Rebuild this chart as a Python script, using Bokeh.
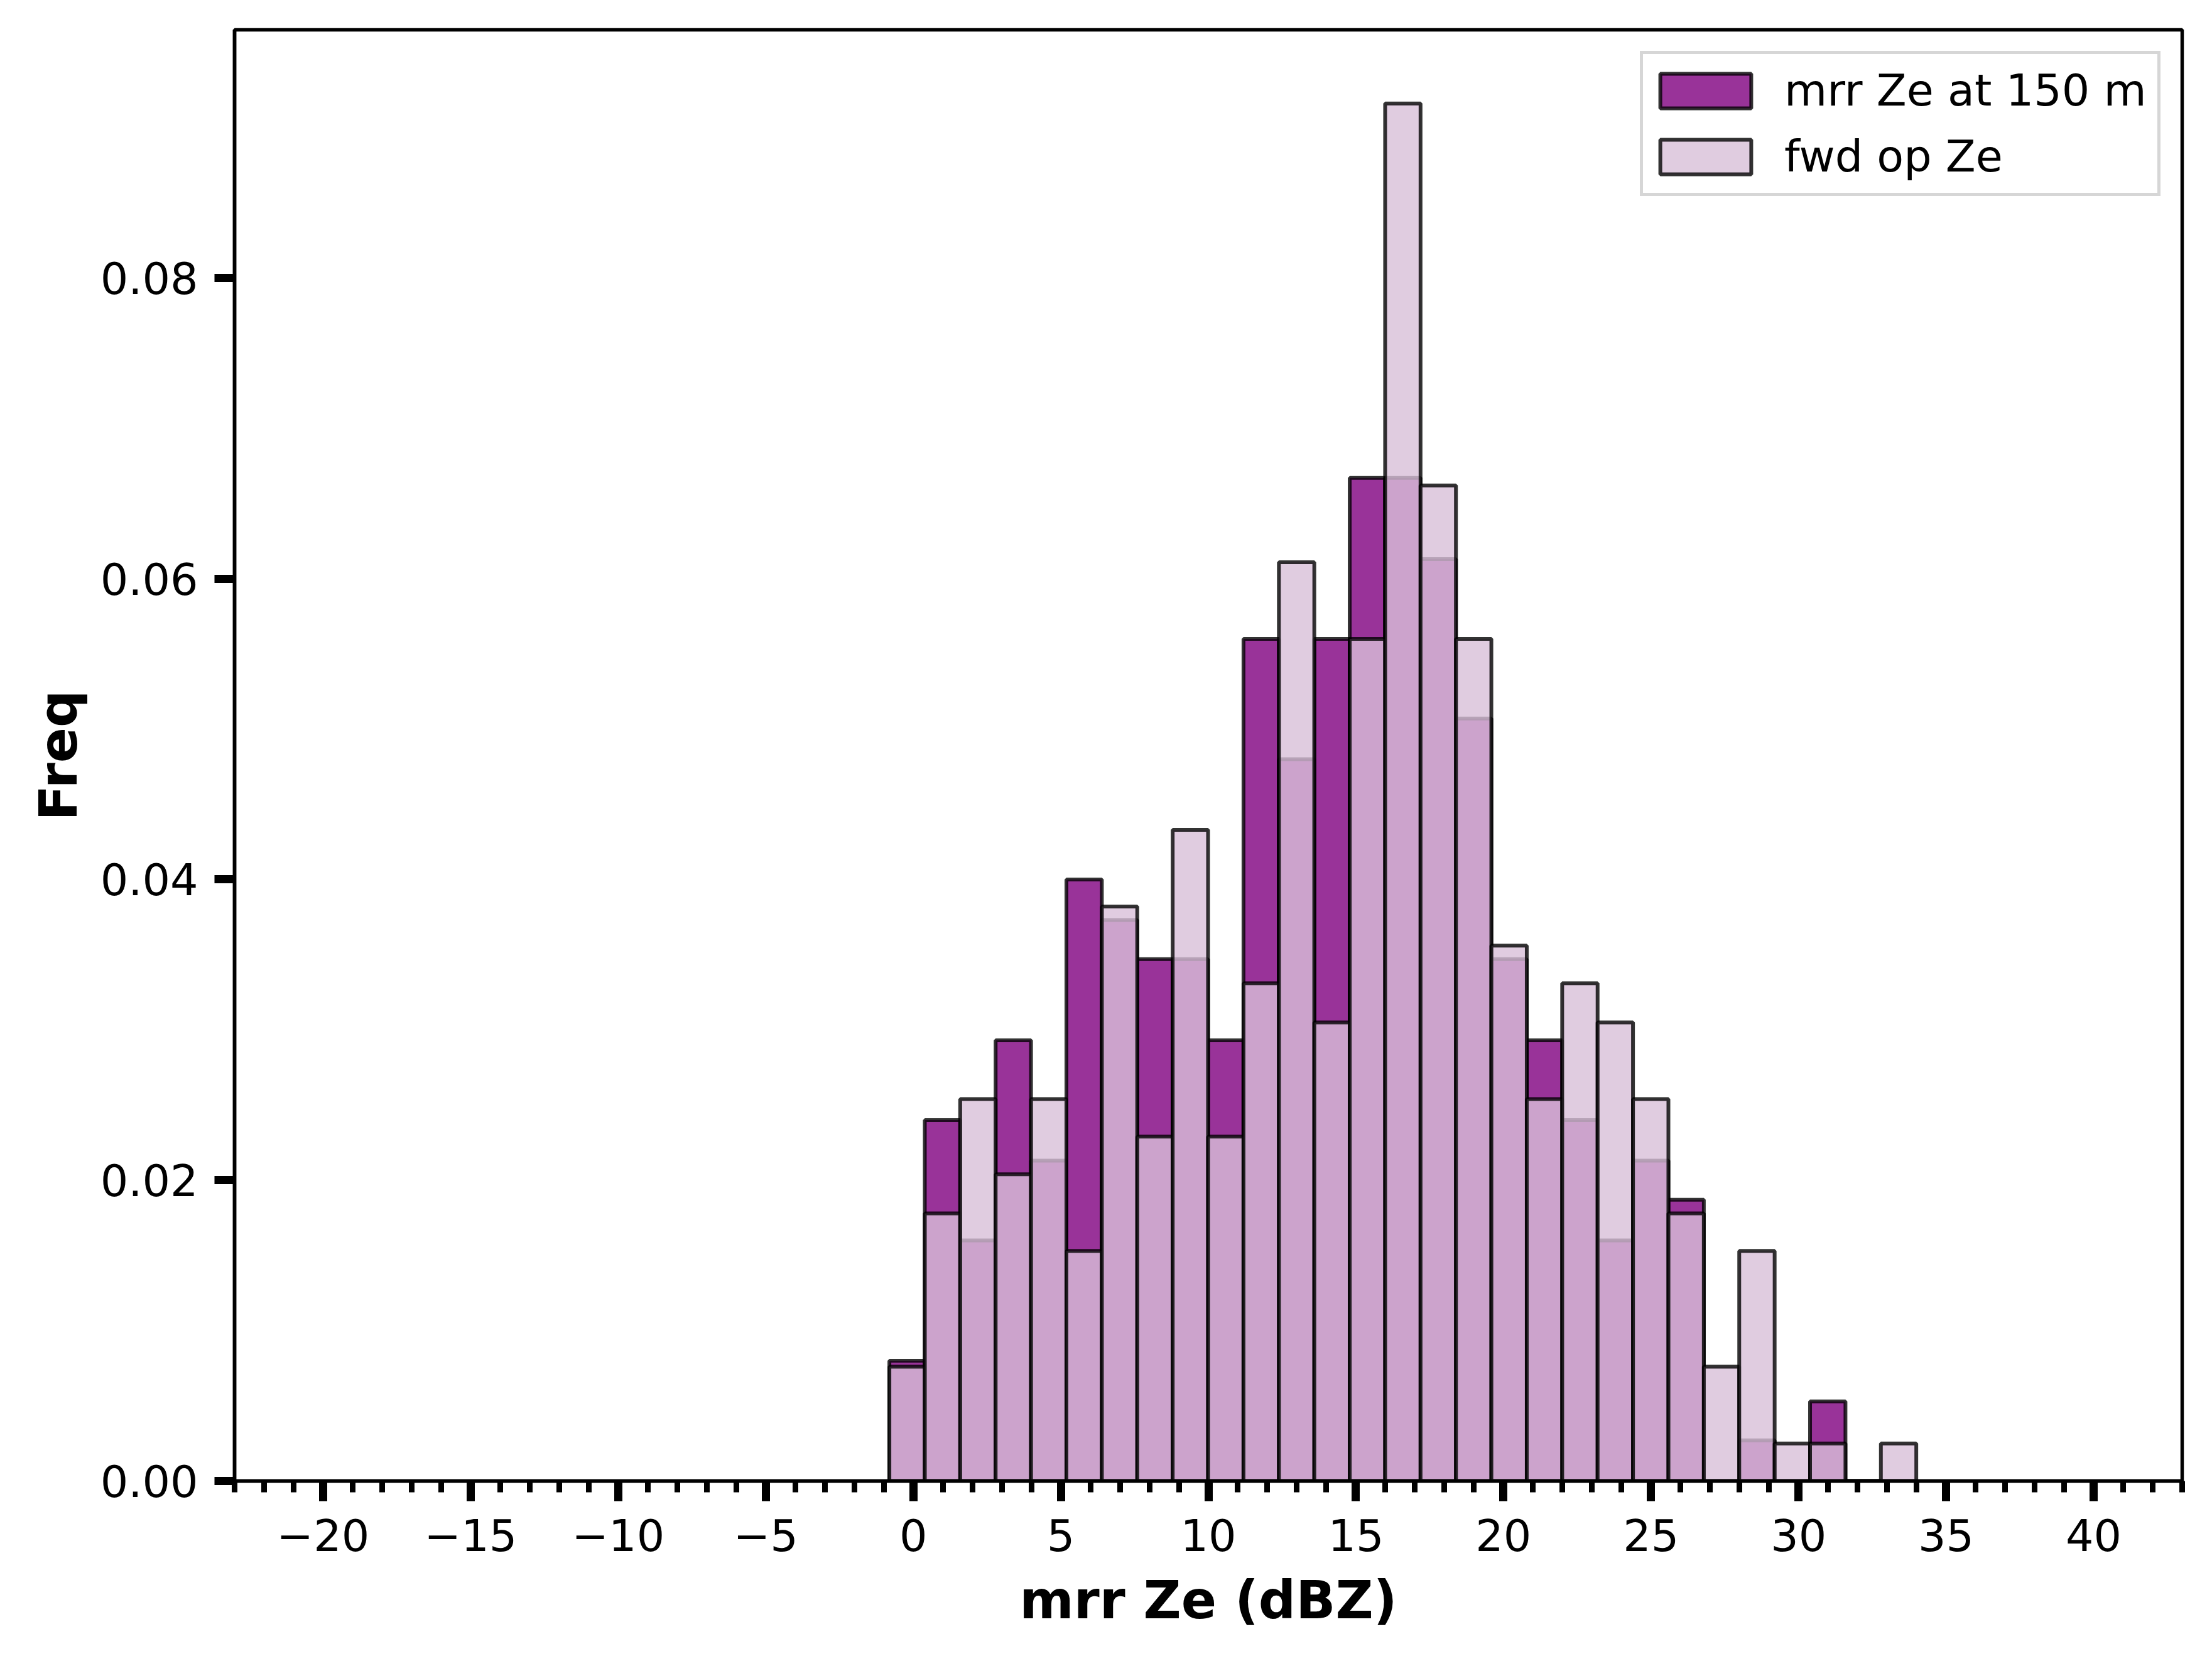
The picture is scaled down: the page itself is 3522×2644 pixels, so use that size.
import numpy as np
from bokeh.plotting import figure
from bokeh.models import (Range1d, SingleIntervalTicker, FixedTicker, PrintfTickFormatter,
                          Legend, LegendItem, ColumnDataSource)
from bokeh.embed import file_html
from bokeh.resources import INLINE

# ---- data (density per bin) ----
bin_start = -0.81
bin_width = 1.2
mrr_freq = [0.0080, 0.0240, 0.0160, 0.0293, 0.0213, 0.0400, 0.0373, 0.0347, 0.0347, 0.0293,
            0.0560, 0.0480, 0.0560, 0.0667, 0.0667, 0.0613, 0.0507, 0.0347, 0.0293, 0.0240,
            0.0160, 0.0213, 0.0187, 0.0000, 0.0027, 0.0000, 0.0053, 0.0000, 0.0000]
fwd_freq = [0.0076, 0.0178, 0.0254, 0.0204, 0.0254, 0.0153, 0.0382, 0.0229, 0.0433, 0.0229,
            0.0331, 0.0611, 0.0305, 0.0560, 0.0916, 0.0662, 0.0560, 0.0356, 0.0254, 0.0331,
            0.0305, 0.0254, 0.0178, 0.0076, 0.0153, 0.0025, 0.0025, 0.0000, 0.0025]
series_labels = ["mrr Ze at 150 m", "fwd op Ze"]
x_label = "mrr Ze (dBZ)"
y_label = "Freq"
x_ticks = list(range(-20, 41, 5))
y_ticks = [0.0, 0.02, 0.04, 0.06, 0.08]

n = len(mrr_freq)
edges = bin_start + bin_width * np.arange(n + 1)

FONT = "DejaVu Sans"

p = figure(width=3506, height=2628, output_backend="svg", toolbar_location=None,
           x_range=Range1d(-23, 43), y_range=Range1d(0, 0.0965),
           min_border_left=373, min_border_right=32, min_border_top=47, min_border_bottom=271)
p.background_fill_color = "white"
p.border_fill_color = "white"
p.xgrid.visible = False
p.ygrid.visible = False
p.outline_line_color = "black"
p.outline_line_width = 5.5

src1 = ColumnDataSource(dict(left=edges[:-1], right=edges[1:], top=mrr_freq, bottom=[0] * n))
src2 = ColumnDataSource(dict(left=edges[:-1], right=edges[1:], top=fwd_freq, bottom=[0] * n))

r1 = p.quad(left="left", right="right", top="top", bottom="bottom", source=src1,
            fill_color="purple", fill_alpha=0.8, line_color="black", line_alpha=0.8, line_width=6)
r2 = p.quad(left="left", right="right", top="top", bottom="bottom", source=src2,
            fill_color="thistle", fill_alpha=0.8, line_color="black", line_alpha=0.8, line_width=6)

# x axis
xa = p.xaxis[0]
xa.ticker = SingleIntervalTicker(interval=5, num_minor_ticks=5)
xa.major_label_overrides = {t: ("\u2212" + str(-t) if t < 0 else str(t)) for t in x_ticks}
xa.axis_label = x_label
# y axis
ya = p.yaxis[0]
ya.ticker = FixedTicker(ticks=y_ticks)
ya.formatter = PrintfTickFormatter(format="%.2f")
ya.axis_label = y_label

for ax in (xa, ya):
    ax.axis_line_color = "black"
    ax.axis_line_width = 5.5
    ax.major_tick_line_color = "black"
    ax.major_tick_line_width = 13
    ax.major_tick_out = 32
    ax.major_tick_in = 0
    ax.minor_tick_line_color = "black"
    ax.minor_tick_line_width = 9
    ax.minor_tick_out = 18
    ax.minor_tick_in = 0
    ax.major_label_text_font = FONT
    ax.major_label_text_font_size = "70px"
    ax.major_label_text_color = "black"
    ax.axis_label_text_font = FONT
    ax.axis_label_text_font_size = "83px"
    ax.axis_label_text_font_style = "bold"
    ax.axis_label_text_color = "black"
ya.minor_tick_line_color = None
xa.major_label_standoff = 28
ya.major_label_standoff = 26
xa.axis_label_standoff = 27
ya.axis_label_standoff = 15

legend = Legend(items=[LegendItem(label=series_labels[0], renderers=[r1]),
                       LegendItem(label=series_labels[1], renderers=[r2])],
                location="top_right")
legend.margin = 34
legend.padding = 9
legend.spacing = 7
legend.glyph_width = 181
legend.glyph_height = 69
legend.label_height = 98
legend.label_width = 585
legend.label_standoff = 35
legend.label_text_font = FONT
legend.label_text_font_size = "70px"
legend.label_text_color = "black"
legend.border_line_color = "#cccccc"
legend.border_line_alpha = 0.8
legend.border_line_width = 5
legend.background_fill_color = "white"
legend.background_fill_alpha = 0.8
p.add_layout(legend)

open("out.html", "w").write(file_html(p, INLINE))
